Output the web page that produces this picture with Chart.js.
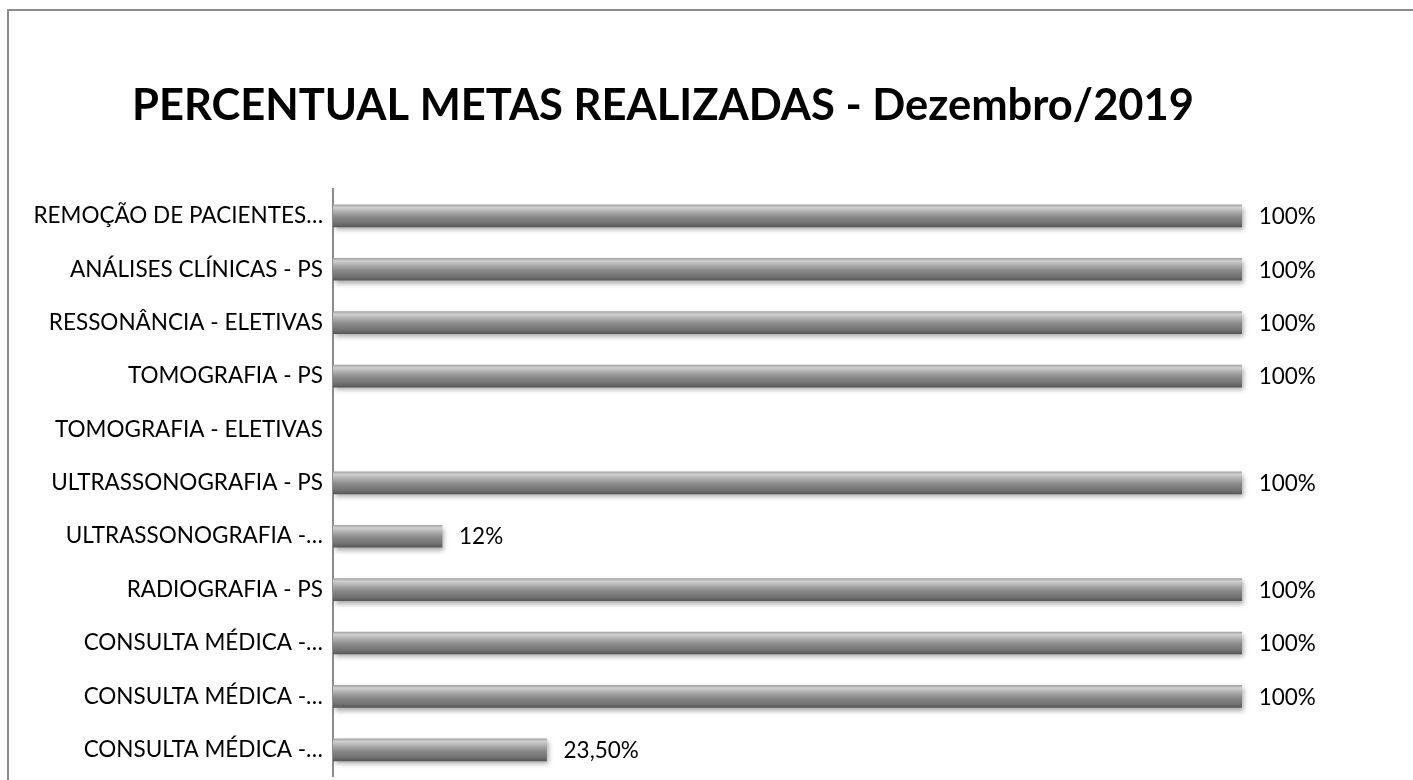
<!DOCTYPE html>
<html>
<head>
<meta charset="utf-8">
<script src="https://cdn.jsdelivr.net/npm/chart.js@4/dist/chart.umd.min.js"></script>
<style>
  html, body { margin: 0; padding: 0; background: #fff; overflow: hidden; width: 1413px; height: 780px; }
  .rule { position: absolute; background: #8c8c8c; }
  #rule-top { left: 7px; top: 9px; width: 1406px; height: 2px; }
  #rule-left { left: 7px; top: 9px; width: 2px; height: 771px; }
  #stats-chart { position: absolute; left: 0; top: 0; }
</style>
</head>
<body>
<div class="rule" id="rule-top"></div>
<div class="rule" id="rule-left"></div>
<canvas id="stats-chart" width="1413" height="800"></canvas>
<script>
const categories = [
  "REMOÇÃO DE PACIENTES…",
  "ANÁLISES CLÍNICAS - PS",
  "RESSONÂNCIA - ELETIVAS",
  "TOMOGRAFIA - PS",
  "TOMOGRAFIA - ELETIVAS",
  "ULTRASSONOGRAFIA - PS",
  "ULTRASSONOGRAFIA -…",
  "RADIOGRAFIA - PS",
  "CONSULTA MÉDICA -…",
  "CONSULTA MÉDICA -…",
  "CONSULTA MÉDICA -…"
];
const percentDone = [100, 100, 100, 100, null, 100, 12, 100, 100, 100, 23.5];
// hidden value axis; a little headroom past 100% leaves space for the labels
const axisMin = 0;
const axisMax = 108.4;

const fontFamily = "Lato, 'Open Sans', sans-serif";
const BAR_H = 22;

function formatPct(v) {
  return Number.isInteger(v) ? v + "%" : v.toFixed(2).replace(".", ",") + "%";
}

// cylinder-like vertical shading for each bar
function barFill(ctx) {
  const chart = ctx.chart;
  const yScale = chart.scales.y;
  if (!chart.chartArea || !yScale) return "#8a8a8a";
  const cy = yScale.getPixelForValue(ctx.dataIndex);
  const g = chart.ctx.createLinearGradient(0, cy - BAR_H / 2, 0, cy + BAR_H / 2);
  g.addColorStop(0, "#a4a4a4");
  g.addColorStop(0.12, "#d0d0d0");
  g.addColorStop(0.3, "#b0b0b0");
  g.addColorStop(0.55, "#8a8a8a");
  g.addColorStop(0.85, "#707070");
  g.addColorStop(1, "#575757");
  return g;
}

const shadowPlugin = {
  id: "barShadow",
  beforeDatasetDraw(chart) {
    const c = chart.ctx;
    c.save();
    c.shadowColor = "rgba(0,0,0,0.35)";
    c.shadowBlur = 5;
    c.shadowOffsetX = 2;
    c.shadowOffsetY = 3;
  },
  afterDatasetDraw(chart) {
    chart.ctx.restore();
  }
};

const valueLabels = {
  id: "valueLabels",
  afterDatasetsDraw(chart) {
    const c = chart.ctx;
    const meta = chart.getDatasetMeta(0);
    c.save();
    c.font = "22.5px " + fontFamily;
    c.fillStyle = "#000";
    c.textAlign = "left";
    c.textBaseline = "middle";
    meta.data.forEach((bar, i) => {
      const v = percentDone[i];
      if (v === null || v === undefined) return;
      c.fillText(formatPct(v), bar.x + 17, bar.y + 1);
    });
    c.restore();
  }
};

const statsChart = new Chart("stats-chart", {
  type: "bar",
  data: {
    labels: categories,
    datasets: [
      {
        label: "Percentual",
        data: percentDone,
        backgroundColor: barFill,
        borderWidth: 0,
        barThickness: BAR_H
      }
    ]
  },
  options: {
    indexAxis: "y",
    responsive: false,
    animation: false,
    layout: { padding: { left: 8, right: 95, top: 0, bottom: 17 } },
    plugins: {
      legend: { display: false },
      tooltip: { enabled: false },
      title: {
        display: true,
        text: "PERCENTUAL METAS REALIZADAS - Dezembro/2019",
        color: "#000",
        font: { family: fontFamily, size: 43.5, weight: "bold" },
        padding: { top: 80, bottom: 57 }
      }
    },
    scales: {
      x: {
        display: false,
        min: axisMin,
        max: axisMax
      },
      y: {
        grid: { display: false, drawTicks: false },
        border: { display: true, color: "#8c8c8c", width: 2 },
        ticks: {
          color: "#000",
          padding: 10,
          font: { family: fontFamily, size: 22.5 }
        },
        afterFit(scale) { scale.width = 325; }
      }
    }
  },
  plugins: [shadowPlugin, valueLabels]
});
</script>
</body>
</html>
